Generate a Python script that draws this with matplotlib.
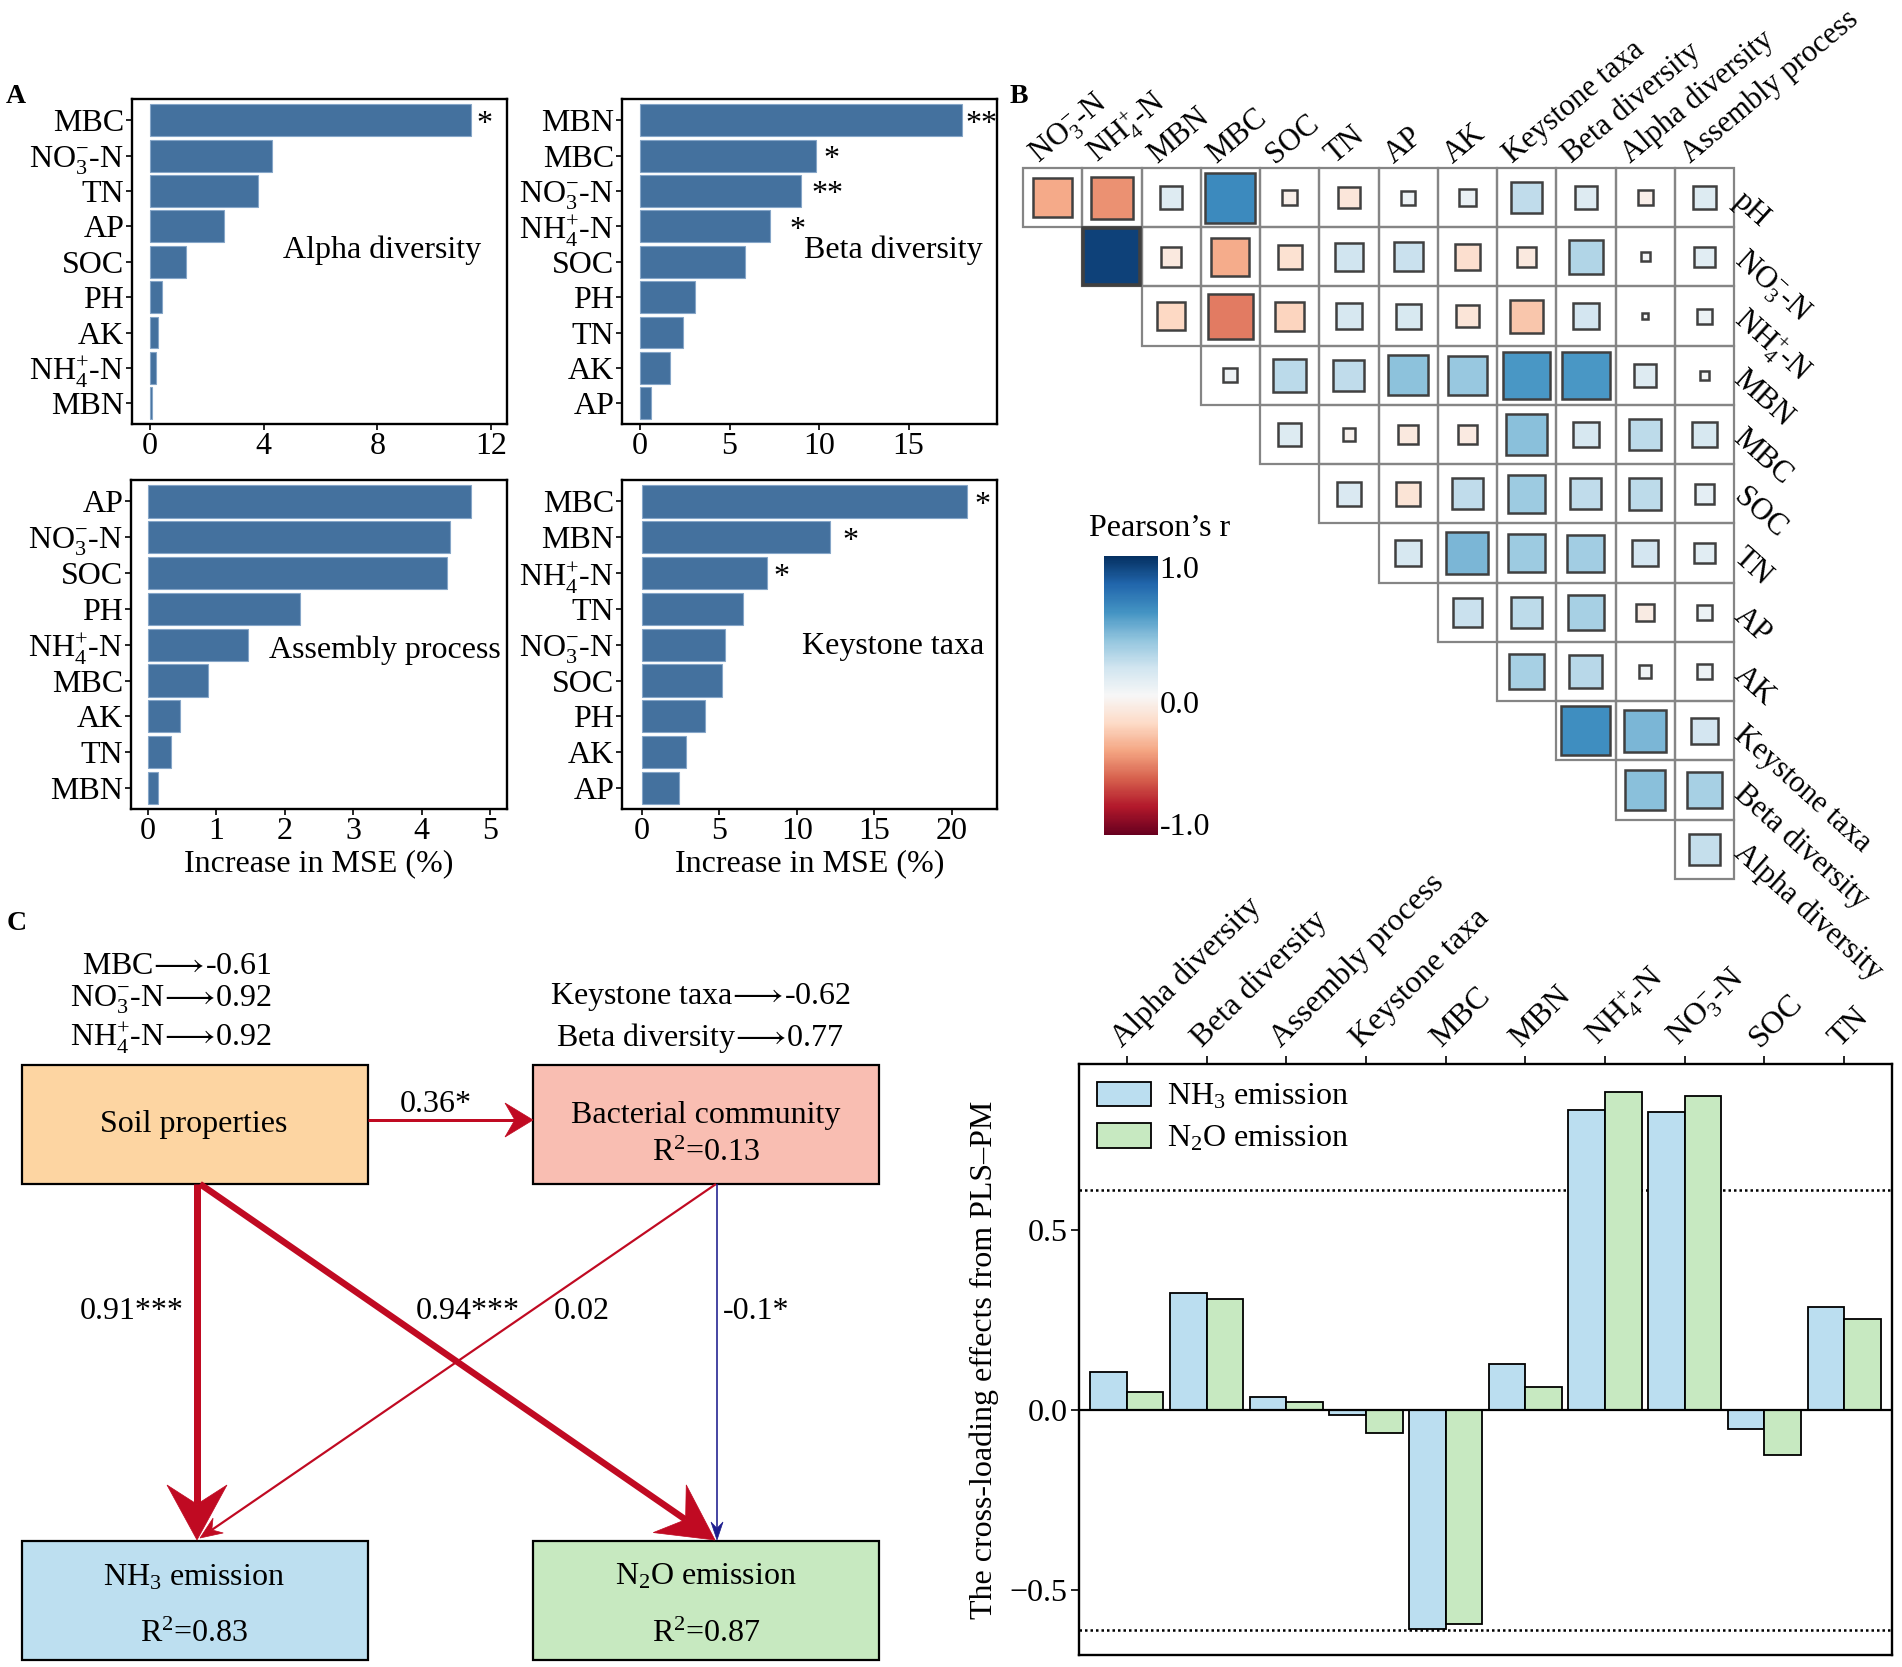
import matplotlib
matplotlib.use('Agg')
import matplotlib.pyplot as plt
import numpy as np
from matplotlib.patches import Rectangle, Polygon
from matplotlib.colors import Normalize
from matplotlib.cm import ScalarMappable

plt.rcParams['font.family'] = ['Liberation Serif', 'DejaVu Serif', 'DejaVu Sans']
plt.rcParams['mathtext.fontset'] = 'custom'
plt.rcParams['mathtext.rm'] = 'Liberation Serif'
plt.rcParams['mathtext.it'] = 'Liberation Serif:italic'
plt.rcParams['mathtext.bf'] = 'Liberation Serif:bold'
plt.rcParams['mathtext.fallback'] = 'stix'

# ---------------- data ----------------
NO3 = r'NO${}_3^{-}$-N'
NH4 = r'NH${}_4^{+}$-N'

alpha_labels = ['MBC', NO3, 'TN', 'AP', 'SOC', 'PH', 'AK', NH4, 'MBN']
alpha_vals = [11.3, 4.3, 3.8, 2.6, 1.28, 0.43, 0.29, 0.2, 0.09]
alpha_sig = ['*', '', '', '', '', '', '', '', '']

beta_labels = ['MBN', 'MBC', NO3, NH4, 'SOC', 'PH', 'TN', 'AK', 'AP']
beta_vals = [17.95, 9.8, 9.0, 7.25, 5.85, 3.1, 2.4, 1.67, 0.6]
beta_sig = ['**', '*', '**', '*', '', '', '', '', '']

asm_labels = ['AP', NO3, 'SOC', 'PH', NH4, 'MBC', 'AK', 'TN', 'MBN']
asm_vals = [4.72, 4.42, 4.37, 2.22, 1.46, 0.88, 0.46, 0.33, 0.15]
asm_sig = ['', '', '', '', '', '', '', '', '']

key_labels = ['MBC', 'MBN', NH4, 'TN', NO3, 'SOC', 'PH', 'AK', 'AP']
key_vals = [20.95, 12.1, 8.1, 6.5, 5.35, 5.15, 4.07, 2.84, 2.39]
key_sig = ['*', '*', '*', '', '', '', '', '', '']

# correlation matrix (upper triangle, row i starts at column i)
corr_cols = [NO3, NH4, 'MBN', 'MBC', 'SOC', 'TN', 'AP', 'AK',
             'Keystone taxa', 'Beta diversity', 'Alpha diversity', 'Assembly process']
corr_rows = ['pH', NO3, NH4, 'MBN', 'MBC', 'SOC', 'TN', 'AP', 'AK',
             'Keystone taxa', 'Beta diversity', 'Alpha diversity']
r_pH = [-0.38, -0.46, 0.13, 0.64, -0.06, -0.12, 0.05, 0.07, 0.25, 0.13, -0.06, 0.14]
r_NO3 = [0.93, -0.10, -0.37, -0.15, 0.20, 0.22, -0.17, -0.10, 0.30, 0.02, 0.11]
r_NH4 = [-0.21, -0.52, -0.22, 0.17, 0.16, -0.13, -0.28, 0.18, 0.01, 0.06]
r_MBN = [0.05, 0.27, 0.25, 0.41, 0.38, 0.58, 0.58, 0.13, 0.02]
r_MBC = [0.14, -0.04, -0.10, -0.09, 0.42, 0.17, 0.26, 0.17]
r_SOC = [0.15, -0.14, 0.25, 0.36, 0.25, 0.26, 0.10]
r_TN = [0.17, 0.46, 0.36, 0.35, 0.18, 0.11]
r_AP = [0.22, 0.26, 0.33, -0.08, 0.06]
r_AK = [0.33, 0.28, 0.04, 0.06]
r_Key = [0.62, 0.46, 0.18]
r_Beta = [0.42, 0.33]
r_Alpha = [0.24]
corr_vals = [r_pH, r_NO3, r_NH4, r_MBN, r_MBC, r_SOC, r_TN, r_AP, r_AK, r_Key, r_Beta, r_Alpha]

# cross-loadings (PLS-PM)
d_cats = ['Alpha diversity', 'Beta diversity', 'Assembly process', 'Keystone taxa',
          'MBC', 'MBN', NH4, NO3, 'SOC', 'TN']
nh3_load = [0.106, 0.326, 0.036, -0.014, -0.607, 0.129, 0.834, 0.829, -0.053, 0.286]
n2o_load = [0.050, 0.310, 0.024, -0.064, -0.593, 0.064, 0.884, 0.871, -0.124, 0.254]
load_threshold = 0.61

# path model
soil_loadings = ['MBC', NO3, NH4]
soil_load_vals = ['-0.61', '0.92', '0.92']
bact_loadings = ['Keystone taxa', 'Beta diversity']
bact_load_vals = ['-0.62', '0.77']
path_coef = ['0.36*', '0.91***', '0.94***', '0.02', '-0.1*']
r2_vals = ['0.13', '0.83', '0.87']

# ---------------- figure ----------------
W, H = 1902, 1667
fig = plt.figure(figsize=(W / 100, H / 100), dpi=100)
FS = 23
BLUE_BAR = '#44719E'


def ax_px(l, t, r, b, **kw):
    return fig.add_axes([l / W, 1 - b / H, (r - l) / W, (b - t) / H], **kw)


# canvas for diagram C and panel letters
axc = ax_px(0, 0, W, H)
axc.set_xlim(0, W)
axc.set_ylim(H, 0)
axc.axis('off')
axc.patch.set_alpha(0)

for letter, (lx, ly) in zip(['A', 'B', 'C'], [(6, 103), (1010, 103), (7, 930)]):
    axc.text(lx, ly, letter, fontsize=20, fontweight='bold', ha='left', va='baseline')


# ---------------- panel A ----------------
def rf_panel(box, labels, vals, sig, xlim, xticks, title, tpos, xlabel=False, star_pad=None):
    ax = ax_px(*box)
    n = len(vals)
    y = np.arange(n)[::-1]
    ax.barh(y, vals, height=0.9, color=BLUE_BAR, edgecolor='#86A6C8', linewidth=0.8)
    ax.set_ylim(-0.6, n - 0.4)
    ax.set_xlim(*xlim)
    ax.set_yticks(y)
    ax.set_yticklabels(labels)
    ax.set_xticks(xticks)
    for s in ax.spines.values():
        s.set_linewidth(1.7)
    ax.tick_params(axis='both', labelsize=FS, width=1.2, length=4.5, pad=1)
    for k, (yi, v, s) in enumerate(zip(y, vals, sig)):
        if s:
            pad = star_pad[k] if star_pad else 5
            ax.annotate(s, (v, yi), xytext=(pad, -4), textcoords='offset pixels',
                        ha='left', va='center', fontsize=FS)
    ax.text(tpos[0], tpos[1], title, transform=ax.transAxes, ha='center', va='center',
            fontsize=FS)
    if xlabel:
        ax.set_xlabel('Increase in MSE (%)', fontsize=FS, labelpad=2)
    return ax


rf_panel((132, 99, 507, 424.5), alpha_labels, alpha_vals, alpha_sig, (-0.63, 12.56),
         [0, 4, 8, 12], 'Alpha diversity', (0.668, 0.534))
rf_panel((622, 99, 997, 424.5), beta_labels, beta_vals, beta_sig, (-1.0, 19.93),
         [0, 5, 10, 15], 'Beta diversity', (0.723, 0.534), star_pad=[4, 8, 10, 20])
rf_panel((131, 480, 507, 809.5), asm_labels, asm_vals, asm_sig, (-0.25, 5.25),
         [0, 1, 2, 3, 4, 5], 'Assembly process', (0.675, 0.484), xlabel=True)
rf_panel((622, 480, 997, 809.5), key_labels, key_vals, key_sig, (-1.28, 22.9),
         [0, 5, 10, 15, 20], 'Keystone taxa', (0.723, 0.494), xlabel=True,
         star_pad=[8, 13, 6])

# ---------------- panel B ----------------
cmap = plt.get_cmap('RdBu')
norm = Normalize(-1, 1)
axb = ax_px(1023, 168, 1734, 879)
ncol = len(corr_cols)
axb.set_xlim(0, ncol)
axb.set_ylim(ncol, 0)
axb.axis('off')
for i, row in enumerate(corr_vals):
    for k, r in enumerate(row):
        j = i + k
        axb.add_patch(Rectangle((j, i), 1, 1, fill=False, edgecolor='#858585',
                                lw=1.6, clip_on=False, zorder=1))
        s = min(0.96, 1.05 * np.sqrt(abs(r)))
        lw = 2.6 if abs(r) > 0.9 else 1.8
        axb.add_patch(Rectangle((j + 0.5 - s / 2, i + 0.5 - s / 2), s, s,
                                facecolor=cmap(norm(r)), edgecolor='#404040',
                                lw=lw, clip_on=False, zorder=2))
for j, lab in enumerate(corr_cols):
    axb.text(j + 0.26, -0.07, lab, rotation=40, ha='left', va='baseline',
             rotation_mode='anchor', fontsize=22, clip_on=False)
for i, lab in enumerate(corr_rows):
    axb.text(ncol + 0.06, i + 0.5, lab, rotation=-42, ha='left', va='center',
             rotation_mode='anchor', fontsize=22, clip_on=False)

cax = ax_px(1104, 556, 1158, 835)
cb = fig.colorbar(ScalarMappable(norm=norm, cmap=cmap), cax=cax)
cb.outline.set_visible(False)
cb.set_ticks([0.92, -0.05, -0.92])
cb.set_ticklabels(['1.0', '0.0', '-1.0'])
cax.tick_params(length=0, labelsize=FS, pad=1)
fig.text(1160 / W, 1 - 528 / H, "Pearson\u2019s r", ha='center', va='center', fontsize=FS)

# ---------------- panel D ----------------
axd = ax_px(1079, 1064, 1892, 1655)
x = np.arange(len(d_cats))
axd.bar(x - 0.23, nh3_load, 0.46, color='#BBDEF0', edgecolor='black', lw=1.3,
        label='NH$_3$ emission', zorder=2)
axd.bar(x + 0.23, n2o_load, 0.46, color='#C7E9C1', edgecolor='black', lw=1.3,
        label='N$_2$O emission', zorder=2)
axd.axhline(0, color='black', lw=1.6, zorder=3)
for t in (load_threshold, -load_threshold):
    axd.axhline(t, color='black', lw=1.8, ls=(0, (1, 1.2)), zorder=1)
axd.set_xlim(-0.6, len(d_cats) - 0.4)
axd.set_ylim(-0.679, 0.961)
axd.xaxis.tick_top()
axd.set_xticks(x)
axd.set_xticklabels(d_cats, rotation=45, ha='left', rotation_mode='anchor')
axd.set_yticks([-0.5, 0.0, 0.5])
axd.set_yticklabels(['\u22120.5', '0.0', '0.5'])
axd.tick_params(axis='both', labelsize=FS, width=1.2, length=6, pad=2)
for s in axd.spines.values():
    s.set_linewidth(1.7)
axd.set_ylabel('The cross-loading effects from PLS\u2013PM', fontsize=FS, labelpad=8)
axd.legend(loc='upper left', bbox_to_anchor=(0.0, 1.0), frameon=False, fontsize=FS,
           handlelength=1.7, handleheight=0.8, handletextpad=0.5, labelspacing=0.35,
           borderaxespad=0.15)

# ---------------- panel C ----------------
boxes = {
    'soil': ((22, 1065, 368, 1184), '#FDD5A2'),
    'bact': ((533, 1065, 879, 1184), '#F9BEB2'),
    'nh3': ((22, 1541, 368, 1660), '#BDDFF0'),
    'n2o': ((533, 1541, 879, 1660), '#C7E9C0'),
}
for (l, t, r, b), col in boxes.values():
    axc.add_patch(Rectangle((l, t), r - l, b - t, facecolor=col, edgecolor='black', lw=1.6))

axc.text(194, 1124, 'Soil properties', ha='center', va='center', fontsize=FS)
axc.text(706, 1115, 'Bacterial community', ha='center', va='center', fontsize=FS)
axc.text(706, 1153, 'R$^2$=' + r2_vals[0], ha='center', va='center', fontsize=FS)
axc.text(194, 1578, 'NH$_3$ emission', ha='center', va='center', fontsize=FS)
axc.text(194, 1634, 'R$^2$=' + r2_vals[1], ha='center', va='center', fontsize=FS)
axc.text(706, 1577, 'N$_2$O emission', ha='center', va='center', fontsize=FS)
axc.text(706, 1634, 'R$^2$=' + r2_vals[2], ha='center', va='center', fontsize=FS)

ARROW = r'$\!\longrightarrow\!$'
for lab, val, yy in zip(soil_loadings, soil_load_vals, [966, 1000, 1038]):
    axc.text(272, yy, lab + ARROW + val, ha='right', va='center', fontsize=FS)
for lab, val, yy in zip(bact_loadings, bact_load_vals, [997, 1038]):
    axc.text(700, yy, lab + ARROW + val, ha='center', va='center', fontsize=FS)

RED = '#C00A22'
NAVY = '#1E1E8E'


def arrow(p0, p1, lw_px, color, hl, hw, notch=0.35):
    p0 = np.array(p0, float)
    p1 = np.array(p1, float)
    d = (p1 - p0) / np.linalg.norm(p1 - p0)
    nrm = np.array([-d[1], d[0]])
    base = p1 - d * hl
    nt = p1 - d * hl * (1 - notch)
    axc.plot([p0[0], nt[0]], [p0[1], nt[1]], color=color, lw=lw_px * 0.72,
             solid_capstyle='butt')
    axc.add_patch(Polygon([p1, base + nrm * hw / 2, nt, base - nrm * hw / 2],
                          closed=True, facecolor=color, edgecolor=color, lw=0.5))


arrow((368, 1120), (533, 1120), 3, RED, 28, 34)
arrow((197, 1184), (197, 1540), 7, RED, 55, 60)
arrow((200, 1184), (715, 1540), 6.5, RED, 55, 58)
arrow((716, 1184), (200, 1538), 2.2, RED, 22, 18)
arrow((717, 1184), (717, 1540), 1.6, NAVY, 18, 12)

for txt, (tx, ty) in zip(path_coef, [(436, 1104), (132, 1311), (468, 1311), (582, 1311),
                                     (756, 1311)]):
    axc.text(tx, ty, txt, ha='center', va='center', fontsize=FS)

fig.savefig('out.png', dpi=100)
